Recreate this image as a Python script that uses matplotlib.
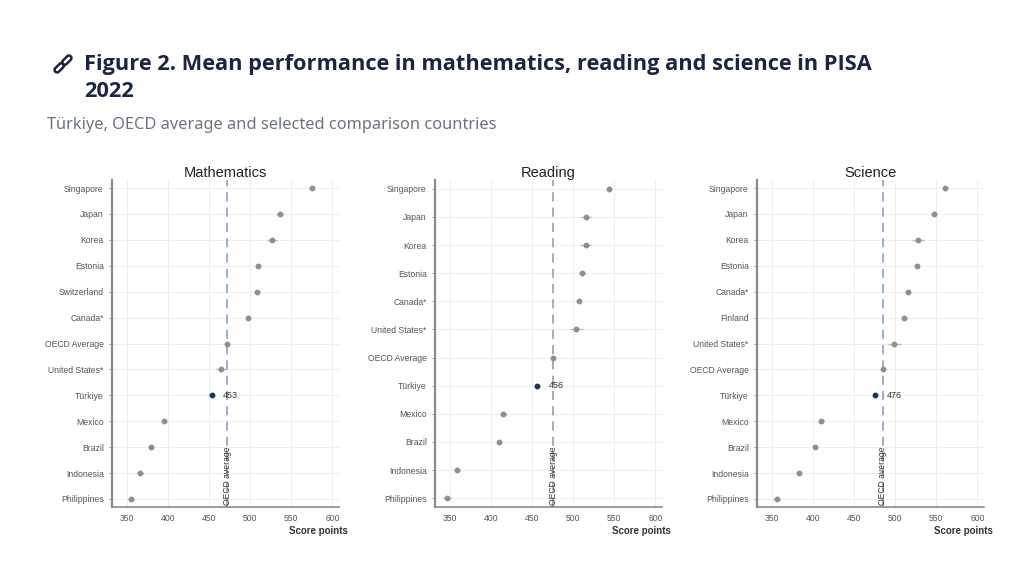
import numpy as np
import matplotlib
matplotlib.use("Agg")
import matplotlib.pyplot as plt
from matplotlib.patches import FancyBboxPatch
from matplotlib.transforms import Affine2D

# ---- data ----
math_countries = ["Singapore", "Japan", "Korea", "Estonia", "Switzerland", "Canada*",
                  "OECD Average", "United States*", "Türkiye", "Mexico", "Brazil",
                  "Indonesia", "Philippines"]
math_scores = [575, 536, 527, 510, 508, 497, 472, 465, 453, 395, 379, 366, 355]
math_ci = [3, 5, 6, 3, 3, 2.5, 0.5, 7, 3, 4, 3, 4, 4]
math_oecd = 472

read_countries = ["Singapore", "Japan", "Korea", "Estonia", "Canada*", "United States*",
                  "OECD Average", "Türkiye", "Mexico", "Brazil", "Indonesia", "Philippines"]
read_scores = [543, 516, 515, 511, 507, 504, 476, 456, 415, 410, 359, 347]
read_ci = [3, 6, 7, 4, 3, 8, 0.5, 3, 4, 3, 4, 5]
read_oecd = 476

sci_countries = ["Singapore", "Japan", "Korea", "Estonia", "Canada*", "Finland",
                 "United States*", "OECD Average", "Türkiye", "Mexico", "Brazil",
                 "Indonesia", "Philippines"]
sci_scores = [561, 547, 528, 526, 515, 511, 499, 485, 476, 410, 403, 383, 356]
sci_ci = [3, 4, 7, 3.5, 3.5, 4, 8, 0.5, 3, 4, 3, 4, 4]
sci_oecd = 485

xticks = [350, 400, 450, 500, 550, 600]

GREY = "#8f8f8f"
NAVY = "#1c3557"
W, H = 1024, 562

fig = plt.figure(figsize=(W / 100, H / 100), dpi=100)
fig.patch.set_facecolor("white")


def px(x, y):
    return x / W, 1 - y / H


# header
fig.text(*px(84, 70), "Figure 2. Mean performance in mathematics, reading and science in PISA",
         family="Open Sans", weight="bold", fontsize=15.7, color="#1b2542", va="baseline")
fig.text(*px(84, 97), "2022", family="Open Sans", weight="bold", fontsize=15.7,
         color="#1b2542", va="baseline")
fig.text(*px(47, 129), "Türkiye, OECD average and selected comparison countries",
         family="Noto Sans", fontsize=11.8, color="#6b7280", va="baseline")

# link icon
iax = fig.add_axes([52 / W, 1 - 76 / H, 22 / W, 24 / H])
iax.set_xlim(-1.1, 1.1)
iax.set_ylim(-1.2, 1.2)
iax.set_aspect("equal")
iax.axis("off")
for cx, cy in [(-0.38, -0.38), (0.38, 0.38)]:
    p = FancyBboxPatch((cx - 0.55, cy - 0.25), 1.1, 0.5,
                       boxstyle="round,pad=0,rounding_size=0.25",
                       fc="none", ec="#1b2542", lw=1.8)
    p.set_transform(Affine2D().rotate_deg_around(cx, cy, 45) + iax.transData)
    iax.add_patch(p)


def panel(left_px, title, countries, scores, ci, oecd, label_val):
    n = len(countries)
    ax = fig.add_axes([left_px / W, 1 - 507 / H, 227 / W, 327 / H])
    y = np.arange(n)
    ax.set_xlim(332, 608)
    ax.set_ylim(n - 1 + 0.31, -0.31)
    ax.set_xticks(xticks)
    ax.set_yticks(y)
    ax.set_yticklabels(countries)
    ax.grid(True, color="#eeeeee", lw=0.7)
    ax.set_axisbelow(True)
    for s in ["top", "right"]:
        ax.spines[s].set_visible(False)
    ax.spines["left"].set_color("#8a8a8a")
    ax.spines["left"].set_linewidth(1.6)
    ax.spines["bottom"].set_color("#8a8a8a")
    ax.spines["bottom"].set_linewidth(1.2)
    ax.tick_params(axis="both", labelsize=6.2, colors="#8a8a8a", labelcolor="#555555",
                   length=2.5, width=0.6)
    ax.tick_params(axis="x", length=0, pad=5)

    ax.axvline(oecd, color="#7f9bb5", lw=1.1, ls=(0, (6, 4)), zorder=2)
    ax.text(oecd, n - 1 + 0.25, "OECD average", rotation=90, ha="center", va="bottom",
            fontsize=6.2, color="#333333", family="Liberation Sans")

    for i in range(n):
        col = NAVY if countries[i] == "Türkiye" else GREY
        ax.errorbar(scores[i], i, xerr=ci[i], fmt="o", ms=3.2, color=col,
                    ecolor="#b8b8b8", elinewidth=1.0, capsize=0, zorder=3)
        if countries[i] == "Türkiye":
            ax.text(scores[i] + 14, i, str(label_val), fontsize=6.4, va="center",
                    color="#333333", family="Liberation Sans")

    ax.set_title(title, fontsize=10.5, color="#222222", family="Liberation Sans", pad=2)
    ax.text(1.04, -0.058, "Score points", transform=ax.transAxes, ha="right", va="top",
            fontsize=7, color="#333333", weight="bold", family="Liberation Sans")
    for lab in ax.get_xticklabels() + ax.get_yticklabels():
        lab.set_family("Liberation Sans")
    return ax


panel(112, "Mathematics", math_countries, math_scores, math_ci, math_oecd, 453)
panel(435, "Reading", read_countries, read_scores, read_ci, read_oecd, 456)
panel(757, "Science", sci_countries, sci_scores, sci_ci, sci_oecd, 476)

fig.savefig("out.png", dpi=100)
